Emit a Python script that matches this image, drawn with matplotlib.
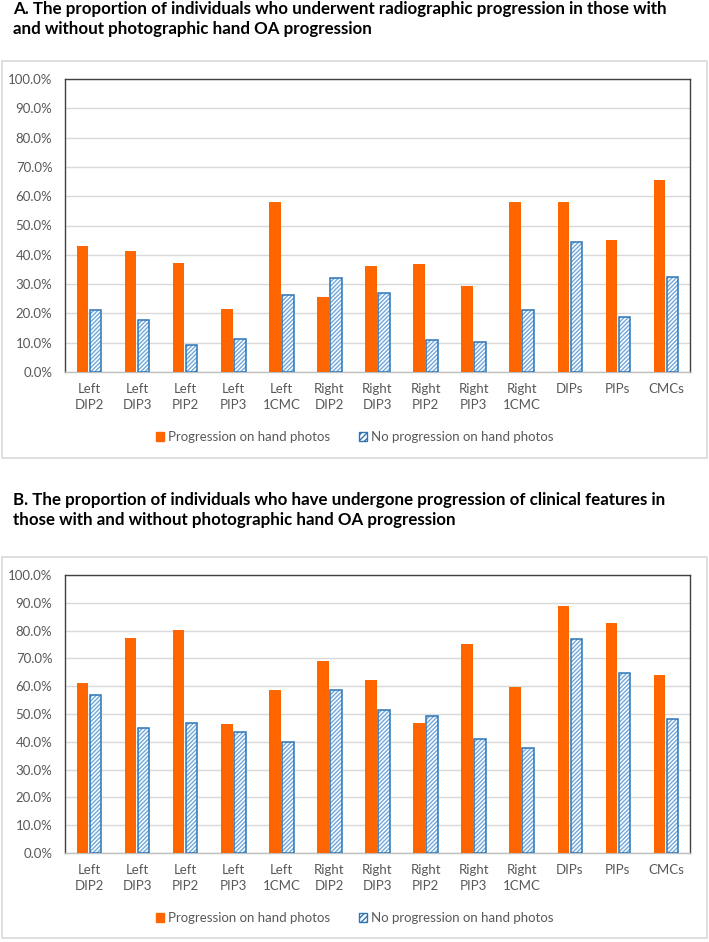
import matplotlib
matplotlib.use("Agg")
import matplotlib.pyplot as plt
import numpy as np
from matplotlib.patches import Rectangle, Patch
from matplotlib.ticker import PercentFormatter

joints = ["Left\nDIP2", "Left\nDIP3", "Left\nPIP2", "Left\nPIP3", "Left\n1CMC",
          "Right\nDIP2", "Right\nDIP3", "Right\nPIP2", "Right\nPIP3", "Right\n1CMC",
          "DIPs", "PIPs", "CMCs"]

# A: radiographic progression (%)
radio_prog = [43.0, 41.4, 37.2, 21.5, 58.0, 25.7, 36.2, 36.7, 29.4, 58.0, 58.0, 44.9, 65.4]
radio_noprog = [21.2, 17.6, 9.2, 11.3, 26.4, 32.1, 26.9, 10.8, 10.2, 21.2, 44.5, 18.7, 32.5]

# B: clinical features progression (%)
clin_prog = [61.3, 77.2, 80.1, 46.5, 58.6, 69.0, 62.4, 46.9, 75.1, 59.6, 88.7, 82.8, 64.1]
clin_noprog = [57.0, 44.9, 46.6, 43.4, 40.0, 58.7, 51.5, 49.3, 41.1, 37.7, 76.9, 64.8, 48.3]

series_labels = ["Progression on hand photos", "No progression on hand photos"]

title_a = ("A. The proportion of individuals who underwent radiographic progression in those with\n"
           "and without photographic hand OA progression")
title_b = ("B. The proportion of individuals who have undergone progression of clinical features in\n"
           "those with and without photographic hand OA progression")

ORANGE = "#FF6600"
BLUE_EDGE = "#2E75B6"
BLUE_HATCH = "#6FA8DC"
GREY_TXT = "#595959"
FONT = ["Lato", "DejaVu Sans"]

W, H = 709, 942
plt.rcParams["font.family"] = FONT
plt.rcParams["hatch.linewidth"] = 1.0
plt.rcParams["hatch.color"] = BLUE_HATCH

fig = plt.figure(figsize=(W / 100, H / 100), dpi=100)


def px_axes(left, top, right, bottom):
    return fig.add_axes([left / W, 1 - bottom / H, (right - left) / W, (bottom - top) / H])


def frame(left, top, right, bottom):
    fig.patches.append(Rectangle((left / W, 1 - bottom / H), (right - left) / W,
                                 (bottom - top) / H, transform=fig.transFigure,
                                 facecolor="none", edgecolor="#D9D9D9", lw=1.2))


def panel(ax, prog, noprog, legend_y):
    x = np.arange(len(joints))
    width = 0.24
    off = 0.135
    ax.bar(x - off, prog, width, color=ORANGE, zorder=3)
    ax.bar(x + off, noprog, width, color="white", edgecolor=BLUE_HATCH,
           hatch="////////", lw=0, zorder=3)
    ax.bar(x + off, noprog, width, color="none", edgecolor=BLUE_EDGE, lw=1.1, zorder=4)

    ax.set_xlim(-0.5, len(joints) - 0.5)
    ax.set_ylim(0, 100)
    ax.set_yticks(np.arange(0, 101, 10))
    ax.yaxis.set_major_formatter(PercentFormatter(decimals=1))
    ax.set_xticks(x)
    ax.set_xticklabels(joints, linespacing=1.4, va="top")
    ax.tick_params(length=0, labelsize=9.5, labelcolor=GREY_TXT)
    ax.tick_params(axis="y", pad=9)
    ax.tick_params(axis="x", pad=8)
    ax.grid(axis="y", color="#D9D9D9", lw=1, zorder=0)
    for s in ax.spines.values():
        s.set_color("#404040")
        s.set_linewidth(1)
    ax.spines["bottom"].set_color("#BFBFBF")

    handles = [Patch(facecolor=ORANGE, edgecolor=ORANGE),
               Patch(facecolor="white", edgecolor=BLUE_EDGE, hatch="//////")]
    fig.legend(handles, series_labels, loc="center", bbox_to_anchor=(0.5, 1 - legend_y / H),
               ncol=2, frameon=False, fontsize=9.5, labelcolor=GREY_TXT,
               handlelength=0.6, handleheight=0.6, handletextpad=0.3, columnspacing=2.2)


frame(2, 61, 707, 458)
frame(2, 557, 707, 938)

fig.text(13 / W, 1 - 1 / H, title_a, ha="left", va="top", fontsize=12.2,
         fontweight="bold", linespacing=1.3)
fig.text(13 / W, 1 - 492 / H, title_b, ha="left", va="top", fontsize=12.2,
         fontweight="bold", linespacing=1.3)

ax_a = px_axes(65, 79, 690, 372)
panel(ax_a, radio_prog, radio_noprog, 437)

ax_b = px_axes(65, 575, 690, 853)
panel(ax_b, clin_prog, clin_noprog, 918)

fig.savefig("out.png", dpi=100, facecolor="white")
